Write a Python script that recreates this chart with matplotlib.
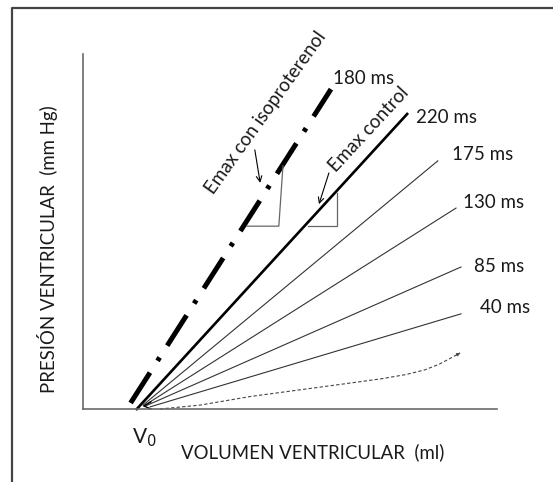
import matplotlib
matplotlib.use("Agg")
import numpy as np
from matplotlib import pyplot as plt
from matplotlib.lines import Line2D

plt.rcParams["font.family"] = ["Lato", "DejaVu Sans"]

# schematic units: volume 0..100, pressure 0..100
iso_v = [11.5, 59.9]
iso_p = [1.7, 90.1]
ctrl_v = [13.0, 78.3]
ctrl_p = [0.0, 83.1]

# thin isochrones (start, end)
thin_labels = ["175 ms", "130 ms", "85 ms", "40 ms"]
thin_v0 = [14.5, 14.7, 15.0, 16.2]
thin_p0 = [1.1, 0.9, 0.8, 0.6]
thin_v1 = [85.7, 90.1, 91.3, 91.3]
thin_p1 = [69.9, 56.6, 40.0, 26.8]
thin_label_v = [89.1, 91.8, 94.4, 95.9]
thin_label_p = [71.8, 58.3, 40.0, 28.5]

# passive filling curve (dashed)
fill_v = [18.6, 28.3, 40.3, 52.4, 64.5, 72.0, 78.0, 82.5, 86.0, 88.6, 91.1]
fill_p = [0.0, 1.1, 3.5, 5.4, 7.3, 8.5, 9.7, 11.0, 12.6, 14.2, 15.8]

# slope triangles
tri_iso_v = [39.6, 47.3, 48.3]
tri_iso_p = [51.5, 51.5, 68.5]
tri_ctrl_v = [54.3, 61.4, 61.4]
tri_ctrl_p = [51.5, 51.5, 60.8]

fig = plt.figure(figsize=(5.53, 4.82), dpi=100)
ax = fig.add_axes([83 / 553, 73 / 482, 414 / 553, 355 / 482])
ax.set_xlim(0, 100)
ax.set_ylim(0, 100)
for side in ["top", "right"]:
    ax.spines[side].set_visible(False)
for side in ["left", "bottom"]:
    ax.spines[side].set_color("#6a6a6a")
    ax.spines[side].set_linewidth(1.2)
ax.set_xticks([])
ax.set_yticks([])

# outer frame (cut at right and bottom edges)
fig.add_artist(Line2D([11.5 / 553, 11.5 / 553, 1.0], [0.0, 1 - 7.5 / 482, 1 - 7.5 / 482],
                      transform=fig.transFigure, color="#444444", lw=1.6))

# Emax with isoproterenol: dash-dot
ax.plot(iso_v, iso_p, color="black", lw=3.6, dashes=(7.2, 2.8, 0.8, 2.8),
        dash_capstyle="butt", clip_on=False)
# Emax control
ax.plot(ctrl_v, ctrl_p, color="black", lw=1.9, clip_on=False)

for v0, p0, v1, p1 in zip(thin_v0, thin_p0, thin_v1, thin_p1):
    ax.plot([v0, v1], [p0, p1], color="#333333", lw=0.8, clip_on=False)

ax.plot(fill_v, fill_p, color="#444444", lw=0.8, dashes=(3, 2), clip_on=False)
ax.annotate("", xy=(fill_v[-1], fill_p[-1]), xytext=(fill_v[-2] + 1.6, fill_p[-2] + 1.0),
            arrowprops=dict(arrowstyle="-|>", color="#444444", lw=0.6,
                            mutation_scale=5, shrinkA=0, shrinkB=0))

# small mark at V0
ax.plot([16.4, 14.7, 16.4], [2.0, 0.85, 0.0], color="black", lw=1.0, clip_on=False)

ax.plot(tri_iso_v, tri_iso_p, color="#666666", lw=0.9)
ax.plot(tri_ctrl_v, tri_ctrl_p, color="#666666", lw=0.9)

arrow = dict(arrowstyle="->", color="black", lw=0.8, shrinkA=0, shrinkB=0)
ax.annotate("", xy=(42.8, 63.7), xytext=(41.5, 73.0), arrowprops=arrow)
ax.annotate("", xy=(57.0, 57.7), xytext=(59.4, 66.5), arrowprops=arrow)

fs = 13.5
tc = "#1a1a1a"
ax.text(60.4, 93.2, "180 ms", fontsize=fs, color=tc, ha="left", va="center")
ax.text(80.4, 82.0, "220 ms", fontsize=fs, color=tc, ha="left", va="center")
for lab, lv, lp in zip(thin_labels, thin_label_v, thin_label_p):
    ax.text(lv, lp, lab, fontsize=fs, color=tc, ha="left", va="center", clip_on=False)

ax.text(44.2, 83.4, "Emax con isoproterenol", fontsize=13.5, color=tc, rotation=54.5,
        rotation_mode="anchor", ha="center", va="center")
ax.text(69.0, 78.8, "Emax control", fontsize=13.5, color=tc, rotation=47.2,
        rotation_mode="anchor", ha="center", va="center")

ax.text(11.8, -8.2, "V$_0$", fontsize=15, color=tc, ha="left", va="center")
ax.text(55.4, -12.1, "VOLUMEN VENTRICULAR  (ml)", fontsize=13.4, color=tc,
        ha="center", va="center")
ax.text(-8.5, 45.1, "PRESIÓN VENTRICULAR  (mm Hg)", fontsize=13.4, color=tc,
        rotation=90, ha="center", va="center")

fig.savefig("out.png", dpi=100)
